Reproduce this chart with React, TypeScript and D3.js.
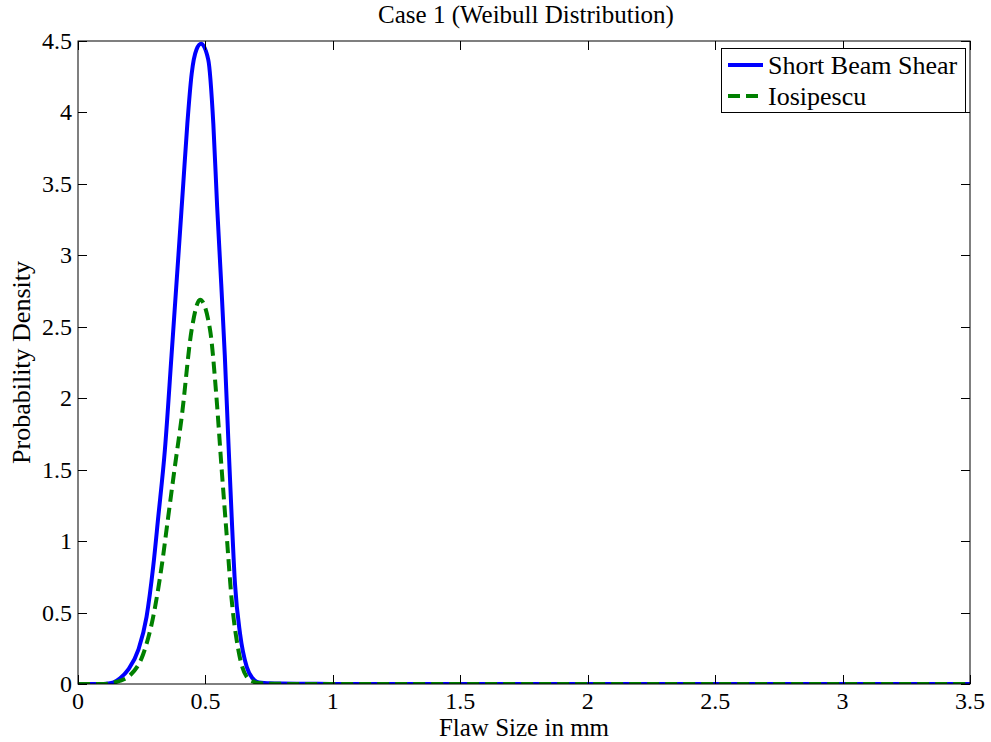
import React, { useEffect, useRef } from 'react';
import * as d3 from 'd3';

// values
const sbsX = [0, 0.1, 0.12, 0.14, 0.165, 0.197, 0.237, 0.269, 0.295, 0.315, 0.341, 0.367, 0.394, 0.413, 0.429, 0.446, 0.465, 0.483, 0.511, 0.531, 0.546, 0.562, 0.576, 0.59, 0.603, 0.616, 0.636, 0.662, 0.685, 0.701, 0.72, 0.75, 0.8, 0.9, 1.0, 3.5];
const sbsY = [0, 0, 0.003, 0.012, 0.04, 0.1, 0.24, 0.47, 0.82, 1.17, 1.64, 2.3, 3.0, 3.5, 3.92, 4.27, 4.44, 4.48, 4.37, 3.92, 3.34, 2.8, 2.3, 1.7, 1.17, 0.7, 0.35, 0.12, 0.04, 0.016, 0.008, 0.005, 0.003, 0.002, 0, 0];

const iosX = [0, 0.1, 0.14, 0.17, 0.204, 0.256, 0.295, 0.328, 0.354, 0.38, 0.407, 0.446, 0.479, 0.518, 0.544, 0.563, 0.583, 0.603, 0.629, 0.662, 0.69, 0.72, 0.75, 0.8, 1.0, 3.5];
const iosY = [0, 0, 0.01, 0.025, 0.06, 0.21, 0.47, 0.82, 1.17, 1.52, 1.87, 2.48, 2.69, 2.48, 1.99, 1.52, 1.05, 0.59, 0.24, 0.05, 0.015, 0.005, 0.002, 0.001, 0, 0];

const xTicks = [0, 0.5, 1, 1.5, 2, 2.5, 3, 3.5];
const yTicks = [0, 0.5, 1, 1.5, 2, 2.5, 3, 3.5, 4, 4.5];
const seriesNames = ['Short Beam Shear', 'Iosipescu'];

export default function App() {
  const ref = useRef<SVGSVGElement>(null);

  useEffect(() => {
    const svg = d3.select(ref.current);
    svg.selectAll('*').remove();

    const left = 78, right = 970, top = 41, bottom = 684;
    const font = '"Liberation Serif", "Times New Roman", serif';

    const x = d3.scaleLinear().domain([0, 3.5]).range([left, right]);
    const y = d3.scaleLinear().domain([0, 4.5]).range([bottom, top]);

    svg.append('rect').attr('width', 991).attr('height', 742).attr('fill', '#fff');

    svg.append('defs').append('clipPath').attr('id', 'plotclip')
      .append('rect').attr('x', left).attr('y', top - 3).attr('width', right - left).attr('height', bottom - top + 3);

    const line = d3.line<[number, number]>()
      .x(d => x(d[0]))
      .y(d => y(d[1]))
      .curve(d3.curveMonotoneX);

    const g = svg.append('g').attr('clip-path', 'url(#plotclip)');
    g.append('path')
      .attr('d', line(sbsX.map((v, i) => [v, sbsY[i]]))!)
      .attr('fill', 'none').attr('stroke', '#0000ff').attr('stroke-width', 4)
      .attr('stroke-linejoin', 'round');
    g.append('path')
      .attr('d', line(iosX.map((v, i) => [v, iosY[i]]))!)
      .attr('fill', 'none').attr('stroke', '#008000').attr('stroke-width', 4)
      .attr('stroke-dasharray', '12,6');

    // box
    svg.append('rect')
      .attr('x', left).attr('y', top).attr('width', right - left).attr('height', bottom - top)
      .attr('fill', 'none').attr('stroke', '#000').attr('stroke-width', 1);

    const tl = 9;
    xTicks.forEach(t => {
      const px = Math.round(x(t)) + 0.5;
      svg.append('line').attr('x1', px).attr('x2', px).attr('y1', bottom).attr('y2', bottom - tl).attr('stroke', '#000');
      svg.append('line').attr('x1', px).attr('x2', px).attr('y1', top).attr('y2', top + tl).attr('stroke', '#000');
      svg.append('text').attr('x', x(t)).attr('y', 709).attr('text-anchor', 'middle')
        .attr('font-family', font).attr('font-size', 24).text(String(t));
    });
    yTicks.forEach(t => {
      const py = Math.round(y(t)) + 0.5;
      svg.append('line').attr('x1', left).attr('x2', left + tl).attr('y1', py).attr('y2', py).attr('stroke', '#000');
      svg.append('line').attr('x1', right).attr('x2', right - tl).attr('y1', py).attr('y2', py).attr('stroke', '#000');
      svg.append('text').attr('x', 72).attr('y', y(t) + 8).attr('text-anchor', 'end')
        .attr('font-family', font).attr('font-size', 24).text(String(t));
    });

    svg.append('text').attr('x', (left + right) / 2 + 2).attr('y', 23).attr('text-anchor', 'middle')
      .attr('font-family', font).attr('font-size', 25).text('Case 1 (Weibull Distribution)');
    svg.append('text').attr('x', (left + right) / 2).attr('y', 736).attr('text-anchor', 'middle')
      .attr('font-family', font).attr('font-size', 25).text('Flaw Size in mm');
    svg.append('text').attr('transform', `translate(30,${(top + bottom) / 2}) rotate(-90)`)
      .attr('text-anchor', 'middle')
      .attr('font-family', font).attr('font-size', 26).text('Probability Density');

    // legend
    const lg = svg.append('g');
    lg.append('rect').attr('x', 721.5).attr('y', 48.5).attr('width', 244).attr('height', 64)
      .attr('fill', '#fff').attr('stroke', '#000');
    lg.append('line').attr('x1', 728).attr('x2', 763).attr('y1', 65).attr('y2', 65)
      .attr('stroke', '#0000ff').attr('stroke-width', 4);
    lg.append('line').attr('x1', 728).attr('x2', 760).attr('y1', 96).attr('y2', 96)
      .attr('stroke', '#008000').attr('stroke-width', 4).attr('stroke-dasharray', '12,6');
    lg.append('text').attr('x', 768).attr('y', 74).attr('font-family', font).attr('font-size', 26).text(seriesNames[0]);
    lg.append('text').attr('x', 768).attr('y', 105).attr('font-family', font).attr('font-size', 26).text(seriesNames[1]);
  }, []);

  return (
    <svg ref={ref} width={991} height={742} style={{ display: 'block', position: 'absolute', left: 0, top: 0 }}></svg>
  );
}
